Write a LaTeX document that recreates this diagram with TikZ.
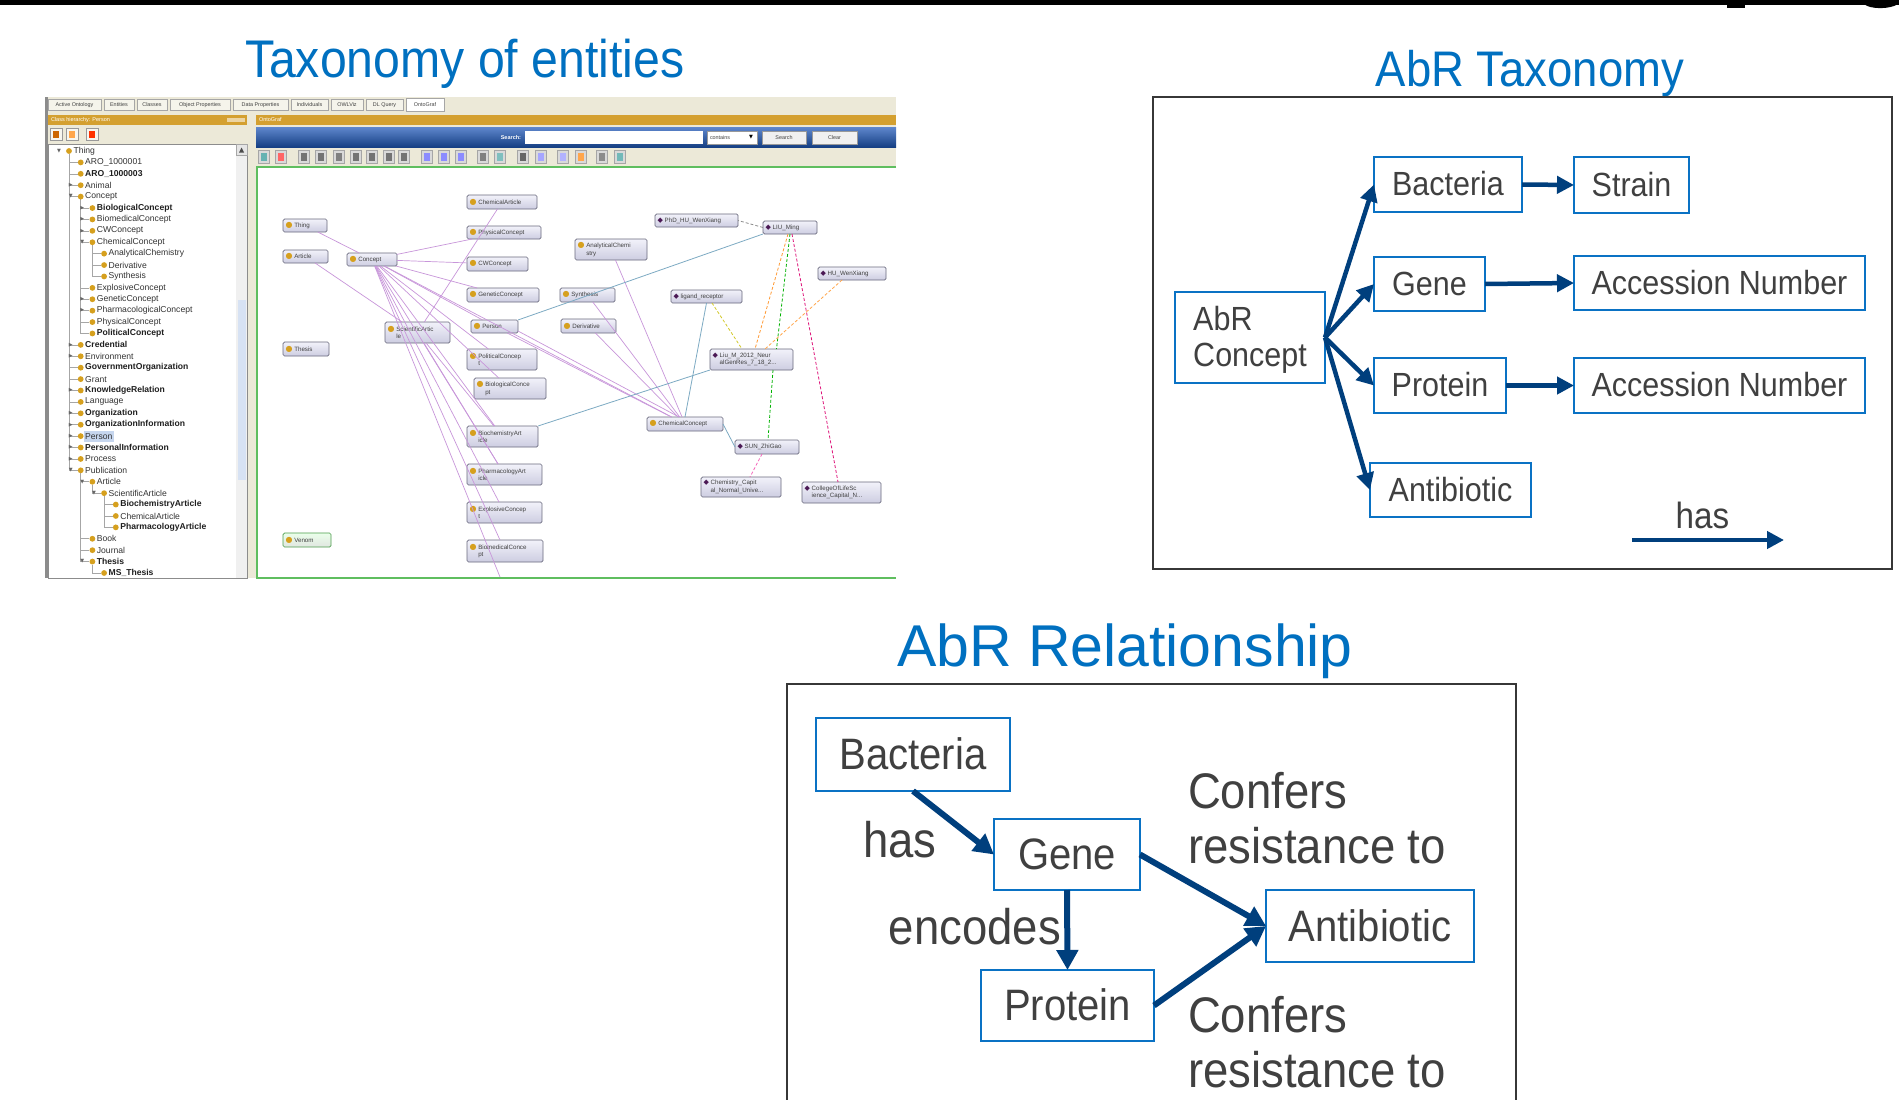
\documentclass[tikz,border=0pt]{standalone}
\usepackage{fontspec}
\setmainfont{Liberation Sans}
\newfontfamily\nf[FakeStretch=0.91]{Liberation Sans}
\newfontfamily\djv{DejaVu Sans}
\usetikzlibrary{arrows.meta}
\definecolor{titleblue}{RGB}{0,112,192}
\definecolor{boxblue}{RGB}{10,114,196}
\definecolor{navy}{RGB}{0,63,125}
\definecolor{txtgrey}{RGB}{64,64,64}
\definecolor{panelgrey}{RGB}{55,55,55}
\definecolor{xpbeige}{RGB}{236,233,216}
\definecolor{goldbar}{RGB}{212,160,48}
\definecolor{golddot}{RGB}{214,160,30}
\definecolor{pedgec}{RGB}{200,150,218}
\definecolor{tedgec}{RGB}{125,170,195}
\definecolor{ogtop}{RGB}{242,242,250}
\definecolor{ogbot}{RGB}{205,205,225}
\definecolor{ogborder}{RGB}{105,105,125}
\definecolor{indiv}{RGB}{75,25,85}
\definecolor{gborder}{RGB}{95,190,95}
\definecolor{barTop}{RGB}{95,135,205}
\definecolor{barBot}{RGB}{20,62,130}
\definecolor{selblue}{RGB}{198,214,238}
\def\mkd{▼}
\def\mkr{▶}
\def\mkn{}
\newcommand{\ogicon}[1]{\if#1c{\djv\fontsize{8}{8}\selectfont\textcolor{golddot}{●}}\else{\djv\fontsize{7}{7}\selectfont\textcolor{indiv}{◆}}\fi}
\newcommand{\ogn}[7]{%
  \node[ogbox, minimum width={#4-#2}, minimum height={#5-#3}] (#1) at ({(#2+#4)/2},{(#3+#5)/2}) {};
  \node[oglbl, anchor=west] (#1l) at (#2+2.5,{(#3+#5)/2}) {\ogicon{#6}\hspace{1.8pt}\vtop{#7}};
}
\tikzset{
  every node/.style={inner sep=0pt, outer sep=0pt},
  title/.style={text=titleblue, font=\nf\fontsize{53}{60}\selectfont},
  tbox/.style={draw=boxblue, line width=2.5pt, fill=white, text=txtgrey, font=\nf\fontsize{33.5}{36}\selectfont},
  tboxh/.style={tbox, text height=24pt, text depth=2pt},
  rbox/.style={draw=boxblue, line width=2.8pt, fill=white, text=txtgrey, font=\nf\fontsize{44}{50}\selectfont, text height=31pt, text depth=1pt},
  tarrow/.style={draw=navy, line width=4.5pt, -{Triangle[length=17pt,width=17pt]}},
  rarrow/.style={draw=navy, line width=6pt, -{Triangle[length=20pt,width=21pt]}},
  lbl/.style={text=txtgrey, font=\nf\fontsize{50}{55}\selectfont},
  panel/.style={draw=panelgrey, line width=2.5pt},
  tabst/.style={draw=black!35, fill=xpbeige!50!white, line width=0.5pt},
  tabtxt/.style={font=\fontsize{5.4}{6}\selectfont, text=black!75},
  hdrtxt/.style={font=\fontsize{5.5}{6}\selectfont, text=white},
  tn/.style={font=\fontsize{8.6}{9}\selectfont, text=black!80, anchor=west},
  tb/.style={font=\bfseries\fontsize{8.6}{9}\selectfont, text=black!88, anchor=west},
  mkst/.style={font=\djv\fontsize{5}{5}\selectfont, text=black!60},
  tline/.style={draw=black!35, line width=0.6pt},
  ogbox/.style={draw=ogborder, line width=0.7pt, rounded corners=1.5pt, top color=ogtop, bottom color=ogbot},
  oglbl/.style={font=\fontsize{6.2}{7.4}\selectfont, text=black!75},
  pe/.style={draw=pedgec, line width=0.7pt},
  te/.style={draw=tedgec, line width=0.8pt},
  de/.style={line width=0.8pt, dash pattern=on 3pt off 2pt},
}
\begin{document}
\begin{tikzpicture}[x=1pt,y=-1pt]
\useasboundingbox (0,0) rectangle (1899,1100);
\fill[white] (0,0) rectangle (1899,1100);
% top black bar and glyph fragments
\fill[black] (0,0) rectangle (1899,4.5);
\fill[black] (1727,4) rectangle (1745,8);
\fill[black] (1864,4) .. controls (1870,9.5) and (1890,9.5) .. (1898,4) -- cycle;

% ===================== Screenshot (Taxonomy of entities) =====================
\node[title, anchor=base west] (t1) at (245,77) {Taxonomy of entities};
\fill[xpbeige] (45,97) rectangle (896,578);
\fill[black!45] (45,97) rectangle (47.5,578);
% tabs
\foreach \xa/\xb/\tt in {48/101/Active Ontology,104/134/Entities,137/167/Classes,170/230/Object Properties,233/288/Data Properties,291/328/Individuals,331/363/OWLViz,366/403/DL Query}{
  \draw[tabst] (\xa,99) rectangle (\xb,110.5);
  \node[tabtxt] at ({(\xa+\xb)/2},105) {\tt};
}
\draw[draw=black!35, fill=white, line width=0.5pt] (406,98) rectangle (444,111);
\node[tabtxt] (tabog) at (425,104.5) {OntoGraf};
% left panel: class hierarchy
\fill[goldbar] (48,115) rectangle (247,124.5);
\node[hdrtxt, anchor=west] (hdr1) at (51,119.8) {Class hierarchy: Person};
\fill[goldbar!45!white] (227,117.5) rectangle (245,122);
\foreach \xa/\cc in {50/orange!80!black,66/orange!70,86/red!60!orange}{
  \draw[fill=xpbeige!40!white, draw=black!40, line width=0.5pt] (\xa,128) rectangle (\xa+12,140.5);
  \fill[\cc] (\xa+3,131) rectangle (\xa+9,137.5);
}
\fill[white] (48,144.5) rectangle (236,578);
\draw[black!45, line width=0.6pt] (48,144.5) rectangle (247,578);
\fill[black!6] (236,144.5) rectangle (247,578);
\fill[selblue!70!white] (237.5,300) rectangle (245.5,480);
\draw[black!35, fill=black!10, line width=0.5pt] (236,144.5) rectangle (247,155);
\fill[black!70] (239,152.5) -- (244,152.5) -- (241.5,147.5) -- cycle;
% tree lines
\draw[tline] (69,154) -- (69,470.3);
\draw[tline] (80.7,199) -- (80.7,333.5);
\draw[tline] (92.4,245) -- (92.4,276.5);
\draw[tline] (80.7,473) -- (80.7,561.6);
\draw[tline] (92.4,484.5) -- (92.4,493.2);
\draw[tline] (104.1,496) -- (104.1,527.4);
\draw[tline] (92.4,564.5) -- (92.4,573);
% selected row
\fill[selblue] (84,430.5) rectangle (114,441.8);
% tree items
\foreach \lv/\mk/\fw/\tx [count=\i from 0] in {0/d/tn/Thing,1/n/tn/ARO\_1000001,1/n/tb/ARO\_1000003,1/r/tn/Animal,1/d/tn/Concept,2/r/tb/BiologicalConcept,2/r/tn/BiomedicalConcept,2/r/tn/CWConcept,2/d/tn/ChemicalConcept,3/n/tn/AnalyticalChemistry,3/n/tn/Derivative,3/n/tn/Synthesis,2/n/tn/ExplosiveConcept,2/r/tn/GeneticConcept,2/r/tn/PharmacologicalConcept,2/n/tn/PhysicalConcept,2/n/tb/PoliticalConcept,1/r/tb/Credential,1/r/tn/Environment,1/n/tb/GovernmentOrganization,1/n/tn/Grant,1/r/tb/KnowledgeRelation,1/n/tn/Language,1/r/tb/Organization,1/r/tb/OrganizationInformation,1/r/tn/Person,1/r/tb/PersonalInformation,1/r/tn/Process,1/d/tn/Publication,2/d/tn/Article,3/d/tn/ScientificArticle,4/n/tb/BiochemistryArticle,4/n/tn/ChemicalArticle,4/n/tb/PharmacologyArticle,2/n/tn/Book,2/n/tn/Journal,2/d/tb/Thesis,3/n/tb/MS\_Thesis}{
  \pgfmathsetmacro\bx{69+11.7*\lv}
  \pgfmathsetmacro\by{151+11.405*\i}
  \ifnum\lv>0 \draw[tline] (\bx-11.7,\by) -- (\bx-3,\by); \fi
  \node[mkst] (tm\i) at (\bx-10,\by) {\csname mk\mk\endcsname};
  \fill[golddot] (\bx,\by) circle (2.9pt);
  \node[\fw] (tr\i) at (\bx+4.5,\by) {\tx};
}
% right panel: OntoGraf
\fill[goldbar] (256,115) rectangle (896,124.5);
\node[hdrtxt, anchor=west] (hdr2) at (259,119.8) {OntoGraf};
\shade[top color=barTop, bottom color=barBot] (256,127) rectangle (896,147.5);
\node[hdrtxt, anchor=east, font=\bfseries\fontsize{5.5}{6}\selectfont] (srchl) at (521,137.5) {Search:};
\fill[white] (525,131) rectangle (703,144);
\draw[fill=white, draw=black!40, line width=0.4pt] (707,131) rectangle (757,144);
\node[tabtxt, anchor=west] (cont) at (710,137.5) {contains};
\node[mkst, text=black] (contm) at (751,137.5) {▼};
\draw[fill=black!6, draw=black!40, line width=0.4pt] (762,131) rectangle (806,144);
\node[tabtxt] (bsearch) at (784,137.5) {Search};
\draw[fill=black!6, draw=black!40, line width=0.4pt] (812,131) rectangle (857,144);
\node[tabtxt] (bclear) at (834.5,137.5) {Clear};
% toolbar icons
\foreach \xx/\cc in {264/teal!60,281/red!60,304/black!55,321/black!55,339/black!50,356/black!55,372/black!55,389/black!55,404/black!55,427/blue!45,444/blue!45,461/blue!45,483/black!50,500/teal!50,523/black!60,541/blue!35,563/blue!30,581/orange!70,602/black!45,620/teal!55}{
  \draw[fill=white!85!black, draw=black!35, line width=0.4pt] (\xx-5.5,150) rectangle (\xx+5.5,163);
  \fill[\cc] (\xx-3,152.5) rectangle (\xx+3,160.5);
}
% graph area
\fill[white] (257,167) rectangle (896,578);
\draw[gborder, line width=2.5pt] (896,167) -- (257,167) -- (257,578) -- (896,578);
% graph nodes
\ogn{cart}{467}{195}{537}{209}{c}{\hbox{ChemicalArticle}}
\ogn{thing}{283}{219}{327}{232}{c}{\hbox{Thing}}
\ogn{phys}{467}{226}{541}{239}{c}{\hbox{PhysicalConcept}}
\ogn{art}{283}{250}{328}{263}{c}{\hbox{Article}}
\ogn{conc}{347}{253}{397}{266}{c}{\hbox{Concept}}
\ogn{cw}{467}{257}{528}{271}{c}{\hbox{CWConcept}}
\ogn{gen}{467}{288}{539}{302}{c}{\hbox{GeneticConcept}}
\ogn{sci}{385}{322}{450}{343}{c}{\hbox{ScientificArtic}\hbox{le}}
\ogn{pers}{471}{320}{518}{333}{c}{\hbox{Person}}
\ogn{thes}{283}{342}{329}{356}{c}{\hbox{Thesis}}
\ogn{pol}{467}{349}{537}{370}{c}{\hbox{PoliticalConcep}\hbox{t}}
\ogn{bio}{474}{378}{546}{399}{c}{\hbox{BiologicalConce}\hbox{pt}}
\ogn{bchem}{467}{426}{538}{447}{c}{\hbox{BiochemistryArt}\hbox{icle}}
\ogn{pharm}{467}{464}{542}{485}{c}{\hbox{PharmacologyArt}\hbox{icle}}
\ogn{expl}{467}{502}{542}{523}{c}{\hbox{ExplosiveConcep}\hbox{t}}
\ogn{biomed}{467}{540}{543}{562}{c}{\hbox{BiomedicalConce}\hbox{pt}}
\ogn{phd}{655}{214}{738}{227}{i}{\hbox{PhD\_HU\_WenXiang}}
\ogn{liu}{763}{221}{817}{234}{i}{\hbox{LIU\_Ming}}
\ogn{anal}{575}{239}{647}{260}{c}{\hbox{AnalyticalChemi}\hbox{stry}}
\ogn{hu}{818}{267}{886}{280}{i}{\hbox{HU\_WenXiang}}
\ogn{syn}{560}{288}{615}{302}{c}{\hbox{Synthesis}}
\ogn{lig}{671}{290}{742}{303}{i}{\hbox{ligand\_receptor}}
\ogn{der}{561}{319}{616}{333}{c}{\hbox{Derivative}}
\ogn{lium}{710}{349}{793}{370}{i}{\hbox{Liu\_M\_2012\_Neur}\hbox{alGenRes\_7\_18\_2...}}
\ogn{chem}{647}{417}{723}{431}{c}{\hbox{ChemicalConcept}}
\ogn{sun}{735}{440}{799}{454}{i}{\hbox{SUN\_ZhiGao}}
\ogn{ccap}{701}{477}{781}{497}{i}{\hbox{Chemistry\_Capit}\hbox{al\_Normal\_Unive...}}
\ogn{coll}{802}{482}{881}{503}{i}{\hbox{CollegeOfLifeSc}\hbox{ience\_Capital\_N...}}
\node[ogbox, draw=green!45!black!70, top color=green!8!white, bottom color=green!18!black!12, minimum width=48, minimum height=14] (venom) at (307,540) {};
\node[oglbl, anchor=west] (venoml) at (285.5,540) {\ogicon{c}\hspace{1.8pt}\vtop{\hbox{Venom}}};
\coordinate (gbot) at (500,577);
% graph edges
\draw[pe] (thing) -- (conc);
\draw[pe] (art) -- (sci);
\draw[pe] (sci) -- (cart);
\draw[pe] (conc) -- (phys);
\draw[pe] (conc) -- (cw);
\draw[pe] (conc) -- (gen);
\draw[pe] (conc) -- (pers);
\draw[pe] (conc) -- (pol);
\draw[pe] (conc) -- (bio);
\draw[pe] (conc) -- (bchem);
\draw[pe] (conc) -- (pharm);
\draw[pe] (conc) -- (expl);
\draw[pe] (conc) -- (biomed);
\draw[pe] (conc) -- (gbot);
\draw[pe] (conc) -- (chem);
\draw[pe] (sci) -- (bchem);
\draw[pe] (sci) -- (pharm);
\draw[pe] (anal) -- (chem);
\draw[pe] (syn) -- (chem);
\draw[pe] (der) -- (chem);
\draw[pe] (pers) -- (chem);
\draw[pe] ([yshift=2pt]pers.south east) -- ([xshift=-6pt]chem.north);
\draw[te] (liu.south west) -- (pers.north east);
\draw[te] (lium.south west) -- (bchem.north east);
\draw[te] (lig.south) -- (chem.north);
\draw[te] (chem.east) -- (sun.west);
\draw[de, draw=black!45] (liu.west) -- (phd.east);
\draw[de, draw=orange!80] ([xshift=-2pt]liu.south) -- ([xshift=3.5pt]lium.north);
\draw[de, draw=green!70!black] (liu.south) -- ([xshift=25pt]lium.north);
\draw[de, draw=magenta!70!purple] ([xshift=2pt]liu.south) -- ([xshift=-3.5pt]coll.north);
\draw[de, draw=orange!70] ([xshift=-10pt]hu.south) -- ([xshift=13.5pt]lium.north);
\draw[de, draw=yellow!80!black] ([xshift=5.5pt]lig.south) -- ([xshift=-9.5pt]lium.north);
\draw[de, draw=green!70!black] ([xshift=21.5pt]lium.south) -- ([xshift=1pt]sun.north);
\draw[de, draw=magenta!60] ([xshift=-5pt]sun.south) -- ([xshift=9pt]ccap.north);

% ===================== AbR Taxonomy =====================
\node[title, anchor=base, font=\nf\fontsize{50}{60}\selectfont] (t2) at (1530,86) {AbR Taxonomy};
\draw[panel] (1153,97) rectangle (1892,569);
\node[tbox, minimum width=150, minimum height=91, align=left] (abr) at (1250,337.5) {\rule{0pt}{29pt}AbR\\Concept};
\node[tboxh, minimum width=148, minimum height=55] (tbact) at (1448,184.5) {Bacteria};
\node[tboxh, minimum width=115, minimum height=56] (tstrain) at (1631.5,185) {Strain};
\node[tboxh, minimum width=111, minimum height=54] (tgene) at (1429.5,284) {Gene};
\node[tboxh, minimum width=291, minimum height=54] (tacc1) at (1719.5,283) {Accession Number};
\node[tboxh, minimum width=132, minimum height=55] (tprot) at (1440,385.5) {Protein};
\node[tboxh, minimum width=291, minimum height=55] (tacc2) at (1719.5,385.5) {Accession Number};
\node[tboxh, minimum width=161, minimum height=54] (tanti) at (1450.5,490) {Antibiotic};
\draw[tarrow] (abr.east) -- (tbact.west);
\draw[tarrow] (abr.east) -- (tgene.west);
\draw[tarrow] (abr.east) -- (tprot.west);
\draw[tarrow] (abr.east) -- (tanti.west);
\draw[tarrow] (tbact.east) -- (tstrain.west);
\draw[tarrow] (tgene.east) -- (tacc1.west);
\draw[tarrow] (tprot.east) -- (tacc2.west);
\node[text=txtgrey, font=\nf\fontsize{36.5}{40}\selectfont, anchor=base] (thas) at (1702.5,528.5) {has};
\coordinate (hasA) at (1632,540);
\coordinate (hasB) at (1784,540);
\draw[tarrow] (hasA) -- (hasB);

% ===================== AbR Relationship =====================
\node[title, anchor=base, font=\fontsize{59}{66}\selectfont] (t3) at (1125,666) {AbR Relationship};
\draw[panel] (787,1105) -- (787,684) -- (1516,684) -- (1516,1105);
\node[rbox, minimum width=194, minimum height=73] (rbact) at (913,754.5) {Bacteria};
\node[rbox, minimum width=146, minimum height=71] (rgene) at (1067,854.5) {Gene};
\node[rbox, minimum width=173, minimum height=71] (rprot) at (1067.5,1005.5) {Protein};
\node[rbox, minimum width=208, minimum height=72] (ranti) at (1370,926) {Antibiotic};
\draw[rarrow] (rbact.south) -- (rgene.west);
\draw[rarrow] (rgene.south) -- (rprot.north);
\draw[rarrow] (rgene.east) -- (ranti.west);
\draw[rarrow] (rprot.east) -- (ranti.west);
\node[lbl, anchor=base] (lhas) at (900,857.5) {has};
\node[lbl, anchor=base] (lenc) at (975,944.5) {encodes};
\node[lbl, anchor=north west, align=left] (lconf1) at (1188,772) {Confers\\resistance to};
\node[lbl, anchor=north west, align=left] (lconf2) at (1188,996) {Confers\\resistance to};
\end{tikzpicture}
\end{document}
